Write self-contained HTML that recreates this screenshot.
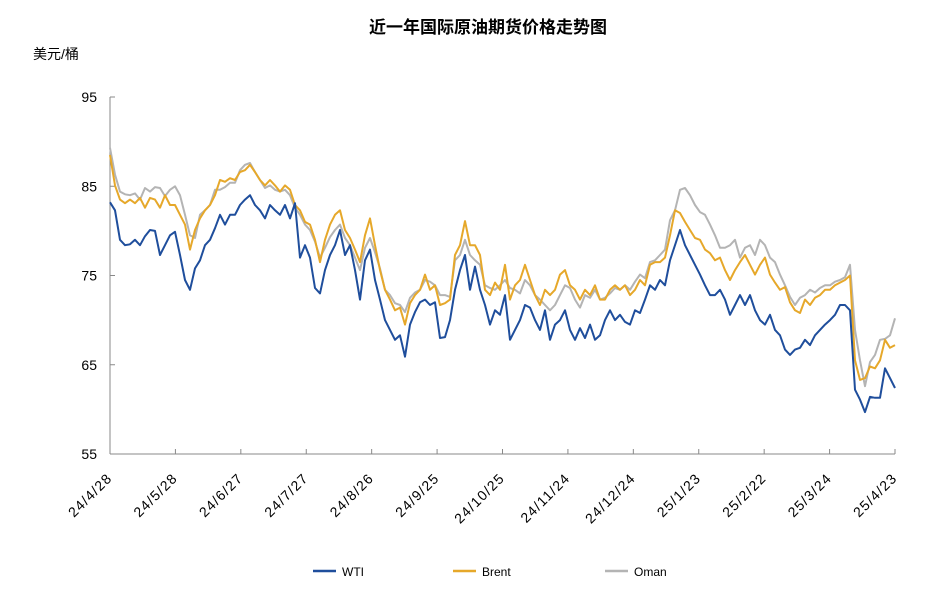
<!DOCTYPE html>
<html><head><meta charset="utf-8"><style>
body{margin:0;background:#fff;}
svg text{font-family:"Liberation Sans","Noto Sans CJK SC",sans-serif;}
</style></head><body>
<svg id="chart" width="939" height="602" xmlns="http://www.w3.org/2000/svg">
<text x="488" y="33" text-anchor="middle" font-size="17" font-weight="bold" fill="#000">近一年国际原油期货价格走势图</text>
<text x="33" y="59" font-size="14" fill="#000">美元/桶</text>
<g id="axes"></g>
<g id="series"></g>
<g font-size="12">
 <line x1="313" y1="571" x2="336" y2="571" stroke="#1f4e9c" stroke-width="2.5"/>
 <text x="342" y="576" fill="#000">WTI</text>
 <line x1="453" y1="571" x2="476" y2="571" stroke="#e6a82a" stroke-width="2.5"/>
 <text x="482" y="576" fill="#000">Brent</text>
 <line x1="605" y1="571" x2="628" y2="571" stroke="#b4b4b4" stroke-width="2.5"/>
 <text x="634" y="576" fill="#000">Oman</text>
</g>
</svg>
<script>
const xTickLabels=["24/4/28","24/5/28","24/6/27","24/7/27","24/8/26","24/9/25","24/10/25","24/11/24","24/12/24","25/1/23","25/2/22","25/3/24","25/4/23"];
const yTicks=[95,85,75,65,55];
const wti=[83.2,82.3,79.0,78.4,78.5,79.0,78.4,79.4,80.1,80.0,77.3,78.4,79.5,79.9,77.3,74.5,73.4,75.8,76.7,78.4,79.0,80.3,81.8,80.7,81.8,81.8,82.9,83.5,84.0,82.9,82.3,81.4,82.9,82.3,81.8,82.9,81.4,83.1,77.0,78.4,77.0,73.6,73.0,75.6,77.3,78.4,80.1,77.3,78.4,75.6,72.3,76.7,77.9,74.5,72.3,70.0,68.9,67.8,68.3,65.9,69.5,70.9,72.0,72.3,71.7,72.0,68.0,68.1,70.0,73.4,75.6,77.3,73.4,76.0,73.4,71.7,69.5,71.1,70.6,72.8,67.8,68.9,70.0,71.7,71.4,70.0,68.9,71.1,67.8,69.5,70.0,71.1,68.9,67.8,69.1,68.0,69.5,67.8,68.3,70.0,71.1,70.0,70.6,69.8,69.5,71.1,70.8,72.3,73.9,73.4,74.5,73.9,76.7,78.4,80.1,78.4,77.3,76.2,75.1,73.9,72.8,72.8,73.4,72.3,70.6,71.7,72.8,71.7,72.8,71.1,70.0,69.5,70.6,68.9,68.3,66.7,66.1,66.7,66.9,67.8,67.2,68.3,68.9,69.5,70.0,70.6,71.7,71.7,71.1,62.2,61.1,59.7,61.4,61.3,61.3,64.6,63.5,62.4];
const brent=[88.5,85.1,83.5,83.1,83.5,83.1,83.7,82.6,83.7,83.5,82.6,84.0,82.9,82.9,81.8,80.7,77.9,80.1,81.4,82.3,82.9,84.0,85.7,85.5,85.9,85.7,86.6,86.8,87.4,86.6,85.7,85.1,85.7,85.1,84.4,85.1,84.6,82.9,82.3,81.0,80.7,79.0,76.5,79.0,80.7,81.8,82.3,80.1,79.2,77.9,76.5,79.5,81.4,78.4,75.6,73.4,72.3,71.1,71.4,69.5,71.9,72.8,73.4,75.1,73.4,73.9,71.7,71.9,72.3,77.3,78.4,81.1,78.4,78.4,77.3,73.4,72.8,74.2,73.4,76.2,72.3,73.9,74.5,76.2,74.5,72.8,71.7,73.4,72.8,73.4,75.1,75.6,73.9,73.4,72.3,73.4,72.8,73.9,72.3,72.3,73.4,73.9,73.4,73.9,72.8,73.4,74.5,73.9,76.2,76.5,76.5,77.0,79.5,82.3,82.0,81.0,80.1,79.2,79.0,77.9,77.5,76.7,77.0,75.6,74.5,75.6,76.5,77.3,76.2,75.1,76.2,77.0,75.1,74.2,73.4,73.7,72.0,71.1,70.8,72.3,71.7,72.5,72.8,73.4,73.4,73.9,74.2,74.5,75.0,65.5,63.3,63.5,64.8,64.6,65.5,67.8,66.9,67.2];
const oman=[89.3,86.3,84.4,84.1,84.0,84.2,83.5,84.8,84.4,84.9,84.8,83.9,84.6,85.0,84.0,81.8,79.5,79.2,81.8,82.3,82.9,84.6,84.6,84.9,85.4,85.4,86.8,87.4,87.6,86.6,85.7,84.8,85.1,84.6,84.4,84.6,84.0,82.6,81.8,80.7,80.1,78.8,77.0,78.1,79.3,80.1,80.7,79.2,78.4,77.0,75.6,78.1,79.2,77.6,75.8,73.4,72.8,71.9,71.7,70.9,72.5,73.1,73.4,74.5,74.3,73.9,72.8,72.8,72.6,76.7,77.3,79.0,77.3,76.7,76.2,73.9,73.6,73.4,73.9,74.5,73.6,73.4,73.0,74.5,73.9,72.8,72.3,71.7,71.1,71.7,72.8,73.9,73.6,72.3,71.4,72.8,72.5,73.4,72.3,72.5,73.0,73.6,73.4,73.9,73.4,74.3,75.1,74.7,76.5,76.7,77.3,77.9,81.2,82.3,84.6,84.8,84.0,82.9,82.1,81.8,80.7,79.5,78.1,78.1,78.4,79.0,77.0,78.1,78.4,77.3,79.0,78.4,77.0,76.5,75.1,73.9,72.6,71.7,72.5,72.8,73.4,73.1,73.6,73.9,73.9,74.3,74.5,74.8,76.2,68.9,65.5,62.6,65.3,66.1,67.8,67.9,68.3,70.2];
const NS="http://www.w3.org/2000/svg";
const X0=110,X1=895,Y0=454,Y1=97,VMIN=55,VMAX=95;
const N=wti.length;
function xScale(i){return X0+i*(X1-X0)/(N-1);}
function yScale(v){return Y0-(v-VMIN)/(VMAX-VMIN)*(Y0-Y1);}
function mk(tag,attrs,parent){const e=document.createElementNS(NS,tag);for(const k in attrs)e.setAttribute(k,attrs[k]);parent.appendChild(e);return e;}
const axes=document.getElementById('axes');
let l=mk('line',{x1:X0,y1:Y1,x2:X0,y2:Y0,stroke:'#888','stroke-width':1},axes);


l=mk('line',{x1:X0,y1:Y0,x2:X1,y2:Y0,stroke:'#888','stroke-width':1},axes);


yTicks.forEach(v=>{
 const y=yScale(v);
 const t=mk('line',{x1:X0,y1:y,x2:X0+5,y2:y,stroke:'#888'},axes);
 
 
 const tx=mk('text',{x:97,y:y+5,'text-anchor':'end','font-size':14,fill:'#000'},axes);
 tx.textContent=v;
 
 
});
xTickLabels.forEach((s,k)=>{
 const x=X0+k*(X1-X0)/(xTickLabels.length-1);
 const t=mk('line',{x1:x,y1:Y0-5,x2:x,y2:Y0,stroke:'#888'},axes);
 
 
 const ax=x+3,ay=Y0+25;
 const tx=mk('text',{x:ax,y:ay,'text-anchor':'end','font-size':14,'letter-spacing':'1.2',fill:'#000',transform:`rotate(-45 ${ax} ${ay})`},axes);
 tx.textContent=s;
 
 
});
const sg=document.getElementById('series');
[[oman,'#b4b4b4','oman-line'],[brent,'#e6a82a','brent-line'],[wti,'#1f4e9c','wti-line']].forEach(([arr,c,name])=>{
 const d=arr.map((v,i)=>(i?'L':'M')+xScale(i).toFixed(1)+' '+yScale(v).toFixed(1)).join(' ');
 const p=mk('path',{d:d,fill:'none',stroke:c,'stroke-width':2,'stroke-linejoin':'round'},sg);
 
 
});
</script>
</body></html>
